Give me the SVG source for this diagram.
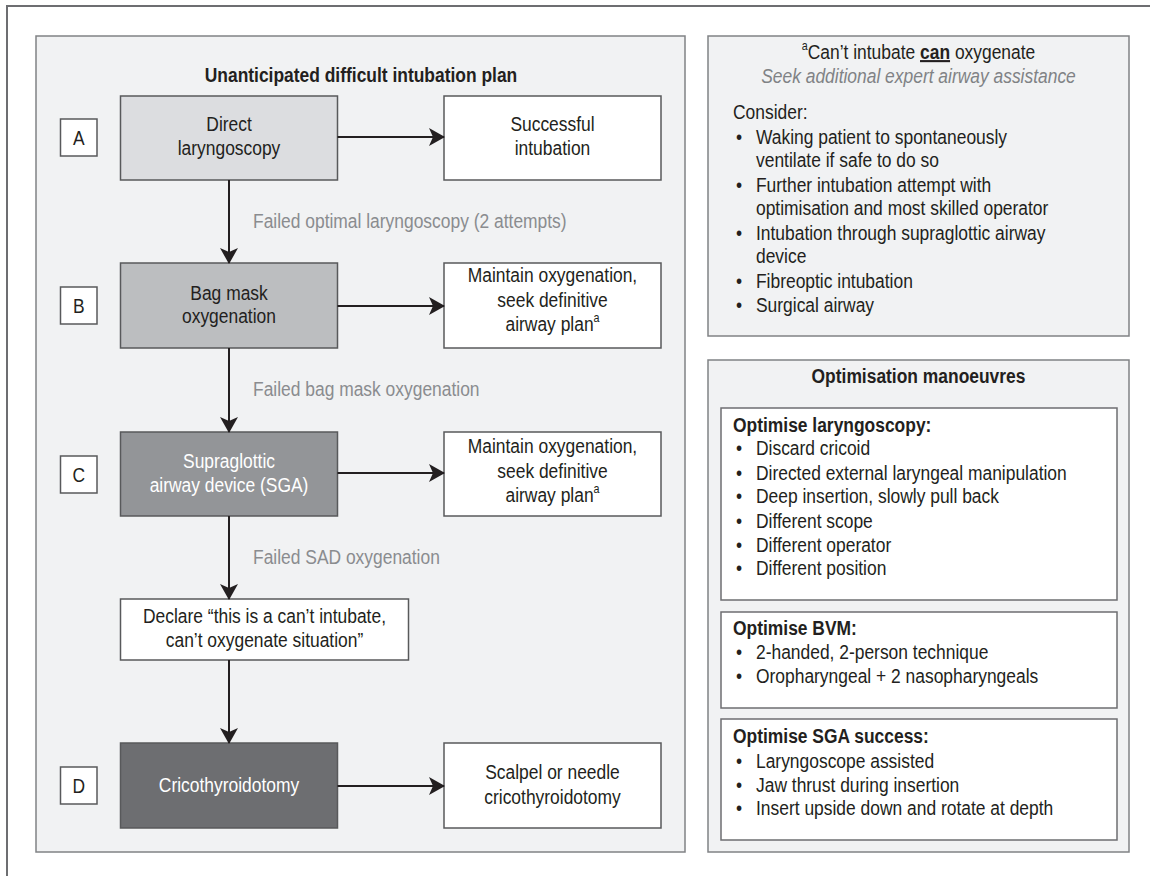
<svg xmlns="http://www.w3.org/2000/svg" width="1150" height="876" viewBox="0 0 1150 876">
  <style>
    text { font-family: "Liberation Sans", Arial, sans-serif; font-size: 21px; fill: #231f20;
           transform-box: fill-box; transform-origin: left center; transform: scaleX(0.83); }
    .c { text-anchor: middle; transform-origin: center; }
    .w { fill: #ffffff; }
    .g { fill: #8a8c8f; }
    .b { font-weight: bold; }
    .it { font-style: italic; fill: #808285; }
    .sup { font-size: 13px; }
    .panel { fill: #f1f2f3; stroke: #808285; stroke-width: 1.5; }
    .box { stroke: #58595b; stroke-width: 1.5; }
    .lbl { fill: #ffffff; stroke: #58595b; stroke-width: 1.5; }
    .inner { fill: #ffffff; stroke: #6d6e71; stroke-width: 1.5; }
    .conn { stroke: #231f20; stroke-width: 2; fill: none; marker-end: url(#arrow); }
  </style>
  <defs>
    <marker id="arrow" viewBox="0 0 16 18" refX="15" refY="9" markerWidth="16" markerHeight="18" markerUnits="userSpaceOnUse" orient="auto">
      <path d="M0,0 L16,9 L0,18 L4,9 Z" fill="#231f20"/>
    </marker>
  </defs>

  <rect width="1150" height="876" fill="#ffffff"/>
  <!-- outer frame (left and top edges) -->
  <path d="M7,876 V6 H1150" fill="none" stroke="#6d6e71" stroke-width="2"/>

  <!-- left panel: intubation plan -->
  <g id="plan-panel">
    <rect class="panel" x="36" y="36" width="649" height="816"/>
    <text class="c b" x="361" y="82">Unanticipated difficult intubation plan</text>
  </g>

  <!-- step labels -->
  <g id="label-a"><rect class="lbl" x="60.5" y="119" width="36.5" height="37"/><text class="c" x="78.7" y="145">A</text></g>
  <g id="label-b"><rect class="lbl" x="60.5" y="287" width="36.5" height="37"/><text class="c" x="78.7" y="313">B</text></g>
  <g id="label-c"><rect class="lbl" x="60.5" y="456" width="36.5" height="37"/><text class="c" x="78.7" y="482">C</text></g>
  <g id="label-d"><rect class="lbl" x="60.5" y="767" width="36.5" height="37"/><text class="c" x="78.7" y="793">D</text></g>

  <!-- main steps -->
  <g id="direct-laryngoscopy">
    <rect class="box" x="120.5" y="96" width="217" height="84" fill="#dcdde0"/>
    <text class="c" x="229" y="131">Direct</text>
    <text class="c" x="229" y="155">laryngoscopy</text>
  </g>
  <g id="bag-mask">
    <rect class="box" x="120.5" y="263" width="217" height="85" fill="#bcbec0"/>
    <text class="c" x="229" y="300">Bag mask</text>
    <text class="c" x="229" y="323">oxygenation</text>
  </g>
  <g id="sga">
    <rect class="box" x="120.5" y="432" width="217" height="84" fill="#939598"/>
    <text class="c w" x="229" y="468">Supraglottic</text>
    <text class="c w" x="229" y="492">airway device (SGA)</text>
  </g>
  <g id="declare">
    <rect class="box" x="120.5" y="599" width="288" height="61" fill="#ffffff"/>
    <text class="c" x="264.5" y="623">Declare “this is a can’t intubate,</text>
    <text class="c" x="264.5" y="647">can’t oxygenate situation”</text>
  </g>
  <g id="cricothyroidotomy">
    <rect class="box" x="120.5" y="743" width="217" height="85" fill="#6d6e71"/>
    <text class="c w" x="229" y="792">Cricothyroidotomy</text>
  </g>

  <!-- outcomes -->
  <g id="successful-intubation">
    <rect class="box" x="444" y="96" width="217" height="84" fill="#ffffff"/>
    <text class="c" x="552.5" y="131">Successful</text>
    <text class="c" x="552.5" y="155">intubation</text>
  </g>
  <g id="maintain-b">
    <rect class="box" x="444" y="263" width="217" height="85" fill="#ffffff"/>
    <text class="c" x="552.5" y="282">Maintain oxygenation,</text>
    <text class="c" x="552.5" y="307">seek definitive</text>
    <text class="c" x="552.5" y="331">airway plan<tspan class="sup" dy="-9">a</tspan></text>
  </g>
  <g id="maintain-c">
    <rect class="box" x="444" y="432" width="217" height="84" fill="#ffffff"/>
    <text class="c" x="552.5" y="453">Maintain oxygenation,</text>
    <text class="c" x="552.5" y="478">seek definitive</text>
    <text class="c" x="552.5" y="502">airway plan<tspan class="sup" dy="-9">a</tspan></text>
  </g>
  <g id="scalpel">
    <rect class="box" x="444" y="743" width="217" height="85" fill="#ffffff"/>
    <text class="c" x="552.5" y="779">Scalpel or needle</text>
    <text class="c" x="552.5" y="804">cricothyroidotomy</text>
  </g>

  <!-- connectors -->
  <g id="connectors">
    <line class="conn" x1="229" y1="180" x2="229" y2="263"/>
    <line class="conn" x1="229" y1="348" x2="229" y2="432"/>
    <line class="conn" x1="229" y1="516" x2="229" y2="599"/>
    <line class="conn" x1="229" y1="660" x2="229" y2="743"/>
    <line class="conn" x1="337.5" y1="137" x2="444" y2="137"/>
    <line class="conn" x1="337.5" y1="306" x2="444" y2="306"/>
    <line class="conn" x1="337.5" y1="473" x2="444" y2="473"/>
    <line class="conn" x1="337.5" y1="786" x2="444" y2="786"/>
    <text class="g" x="253" y="228">Failed optimal laryngoscopy (2 attempts)</text>
    <text class="g" x="253" y="396">Failed bag mask oxygenation</text>
    <text class="g" x="253" y="564">Failed SAD oxygenation</text>
  </g>

  <!-- can't intubate, can oxygenate panel -->
  <g id="cico-panel">
    <rect class="panel" x="708" y="36" width="421" height="300"/>
    <text class="c" x="918.5" y="59"><tspan class="sup" dy="-9">a</tspan><tspan dy="9">Can’t intubate </tspan><tspan class="b" text-decoration="underline">can</tspan> oxygenate</text>
    <text class="c it" x="918.5" y="83">Seek additional expert airway assistance</text>
    <text x="733" y="119">Consider:</text>
    <text x="736" y="144">•</text><text x="756" y="144">Waking patient to spontaneously</text>
    <text x="756" y="167">ventilate if safe to do so</text>
    <text x="736" y="192">•</text><text x="756" y="192">Further intubation attempt with</text>
    <text x="756" y="215">optimisation and most skilled operator</text>
    <text x="736" y="240">•</text><text x="756" y="240">Intubation through supraglottic airway</text>
    <text x="756" y="263">device</text>
    <text x="736" y="288">•</text><text x="756" y="288">Fibreoptic intubation</text>
    <text x="736" y="312">•</text><text x="756" y="312">Surgical airway</text>
  </g>

  <!-- optimisation manoeuvres panel -->
  <g id="optimisation-panel">
    <rect class="panel" x="708" y="360" width="421" height="492"/>
    <text class="c b" x="918.5" y="383">Optimisation manoeuvres</text>
  </g>
  <g id="optimise-laryngoscopy">
    <rect class="inner" x="721" y="408" width="396" height="192"/>
    <text class="b" x="733" y="432">Optimise laryngoscopy:</text>
    <text x="736" y="455">•</text><text x="756" y="455">Discard cricoid</text>
    <text x="736" y="480">•</text><text x="756" y="480">Directed external laryngeal manipulation</text>
    <text x="736" y="503">•</text><text x="756" y="503">Deep insertion, slowly pull back</text>
    <text x="736" y="528">•</text><text x="756" y="528">Different scope</text>
    <text x="736" y="552">•</text><text x="756" y="552">Different operator</text>
    <text x="736" y="575">•</text><text x="756" y="575">Different position</text>
  </g>
  <g id="optimise-bvm">
    <rect class="inner" x="721" y="612" width="396" height="96"/>
    <text class="b" x="733" y="635">Optimise BVM:</text>
    <text x="736" y="659">•</text><text x="756" y="659">2-handed, 2-person technique</text>
    <text x="736" y="683">•</text><text x="756" y="683">Oropharyngeal + 2 nasopharyngeals</text>
  </g>
  <g id="optimise-sga">
    <rect class="inner" x="721" y="719" width="396" height="121"/>
    <text class="b" x="733" y="743">Optimise SGA success:</text>
    <text x="736" y="768">•</text><text x="756" y="768">Laryngoscope assisted</text>
    <text x="736" y="792">•</text><text x="756" y="792">Jaw thrust during insertion</text>
    <text x="736" y="815">•</text><text x="756" y="815">Insert upside down and rotate at depth</text>
  </g>
</svg>
